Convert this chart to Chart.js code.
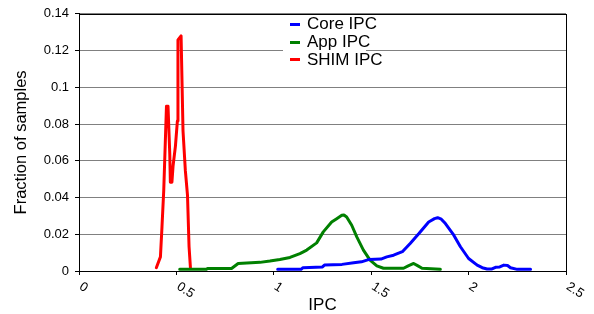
<!DOCTYPE html>
<html>
<head>
<meta charset="utf-8">
<script src="https://cdn.jsdelivr.net/npm/chart.js@4/dist/chart.umd.min.js"></script>
<style>
html,body{margin:0;padding:0;background:#fff;}
#wrap{width:594px;height:314px;}
</style>
</head>
<body>
<div id="wrap"><canvas id="c" width="594" height="314"></canvas></div>
<script>
// ---- data ----
const seriesNames = ['Core IPC', 'App IPC', 'SHIM IPC'];

const coreX = [1.02, 1.14, 1.15, 1.25, 1.26, 1.35, 1.41, 1.45, 1.49, 1.55, 1.58, 1.615, 1.66, 1.70, 1.745, 1.795, 1.825, 1.841, 1.86, 1.881, 1.924, 1.958, 2.0, 2.044, 2.07, 2.095, 2.12, 2.138, 2.16, 2.181, 2.2, 2.215, 2.25, 2.318];
const coreY = [0.0009, 0.0009, 0.0018, 0.0022, 0.0032, 0.0036, 0.0045, 0.005, 0.0063, 0.0065, 0.0077, 0.0086, 0.0105, 0.015, 0.0204, 0.0267, 0.0285, 0.029, 0.0282, 0.0258, 0.0195, 0.0132, 0.0068, 0.0032, 0.0018, 0.0011, 0.0011, 0.002, 0.0022, 0.0032, 0.0030, 0.0018, 0.0009, 0.0009];

const appX = [0.517, 0.654, 0.66, 0.783, 0.817, 0.929, 0.98, 1.031, 1.083, 1.134, 1.169, 1.22, 1.254, 1.297, 1.323, 1.349, 1.36, 1.374, 1.40, 1.426, 1.46, 1.494, 1.529, 1.563, 1.666, 1.69, 1.718, 1.74, 1.761, 1.855];
const appY = [0.0009, 0.0009, 0.0014, 0.0014, 0.0041, 0.0047, 0.0054, 0.0063, 0.0074, 0.0095, 0.0114, 0.0153, 0.0213, 0.0267, 0.0285, 0.0303, 0.0305, 0.0294, 0.0249, 0.0186, 0.0114, 0.0059, 0.0028, 0.0015, 0.0015, 0.0028, 0.0041, 0.0028, 0.0015, 0.0009];

const shimX = [0.397, 0.418, 0.426, 0.435, 0.443, 0.449, 0.457, 0.466, 0.469, 0.477, 0.483, 0.495, 0.505, 0.508, 0.524, 0.534, 0.546, 0.557, 0.565, 0.572];
const shimY = [0.0018, 0.0077, 0.024, 0.0438, 0.070, 0.0897, 0.0897, 0.0636, 0.0483, 0.0483, 0.0573, 0.068, 0.0816, 0.1258, 0.128, 0.0762, 0.0546, 0.0411, 0.0132, 0.0018];

const xTickValues = [0, 0.5, 1, 1.5, 2, 2.5];
const xTickLabels = ['0', '0.5', '1', '1.5', '2', '2.5'];
const yTickLabels = ['0', '0.02', '0.04', '0.06', '0.08', '0.1', '0.12', '0.14'];
const xTitle = 'IPC';
const yTitle = 'Fraction of samples';

const colors = ['#0000FF', '#008000', '#FF0000'];
const FONT = '"Liberation Sans", Arial, sans-serif';

function pts(xs, ys){ return xs.map((x,i)=>({x:x, y:ys[i]})); }

const dataSets = [pts(coreX, coreY), pts(appX, appY), pts(shimX, shimY)];

const decor = {
  id: 'decor',
  beforeDatasetsDraw(chart){
    const ctx = chart.ctx;
    ctx.save();
    ctx.fillStyle = '#fff';
    ctx.fillRect(283, 14, 83, 54);
    ctx.restore();
  },
  afterDraw(chart){
    const ctx = chart.ctx;
    const a = chart.chartArea;
    const xs = chart.scales.x;
    ctx.save();
    ctx.strokeStyle = '#000';
    ctx.lineWidth = 1;
    ctx.strokeRect(Math.round(a.left)+0.5, Math.round(a.top)+0.5, Math.round(a.right)-Math.round(a.left), Math.round(a.bottom)-Math.round(a.top));
    ctx.fillStyle = '#000';
    ctx.font = '13px ' + FONT;
    ctx.textAlign = 'left';
    ctx.textBaseline = 'top';
    xTickValues.forEach((v,i)=>{
      const px = xs.getPixelForValue(v);
      ctx.save();
      ctx.translate(px + 5, 280);
      ctx.rotate(33 * Math.PI/180);
      ctx.fillText(xTickLabels[i], 0, 0);
      ctx.restore();
    });
    ctx.font = '17px ' + FONT;
    ctx.textAlign = 'center';
    ctx.textBaseline = 'middle';
    ctx.fillText(xTitle, (a.left + a.right)/2, 305);
    ctx.save();
    ctx.translate(21, (a.top + a.bottom)/2);
    ctx.rotate(-Math.PI/2);
    ctx.font = '16.5px ' + FONT;
    ctx.fillText(yTitle, 0, 0);
    ctx.restore();
    ctx.font = '17px ' + FONT;
    ctx.textAlign = 'left';
    ctx.textBaseline = 'middle';
    seriesNames.forEach((n,i)=>{
      const y = 24 + i*17.7;
      ctx.fillStyle = colors[i];
      ctx.fillRect(290, Math.round(y)-1, 10, 3);
      ctx.fillStyle = '#000';
      ctx.fillText(n, 307, y + 0.5);
    });
    ctx.restore();
  }
};

new Chart(document.getElementById('c'), {
  type: 'line',
  data: {
    datasets: dataSets.map((d,i)=>({
      label: seriesNames[i],
      data: d,
      borderColor: colors[i],
      backgroundColor: colors[i],
      borderWidth: 3,
      borderJoinStyle: 'round',
      borderCapStyle: 'round',
      pointRadius: 0,
      fill: false,
      tension: 0
    }))
  },
  options: {
    responsive: false,
    animation: false,
    events: [],
    layout: { padding: { left: 0, top: 12, right: 28, bottom: 0 } },
    plugins: { legend: { display: false }, tooltip: { enabled: false } },
    scales: {
      x: {
        type: 'linear',
        min: 0, max: 2.5,
        afterBuildTicks(scale){ scale.ticks = xTickValues.map(v=>({value:v})); },
        afterFit(scale){ scale.height = 43; },
        ticks: { display: false },
        grid: { drawOnChartArea: false, drawTicks: true, tickLength: 4, tickColor: '#000', color: '#000' },
        border: { color: '#000', width: 1 }
      },
      y: {
        type: 'linear',
        min: 0, max: 0.14,
        afterBuildTicks(scale){ scale.ticks = yTickLabels.map(s=>({value: parseFloat(s)})); },
        afterFit(scale){ scale.width = 79; },
        ticks: {
          color: '#000',
          padding: 6,
          font: { family: FONT, size: 13 },
          callback(v, i){ return yTickLabels[i]; }
        },
        grid: { color: '#808080', lineWidth: 1, drawTicks: true, tickLength: 4, tickColor: '#000' },
        border: { color: '#000', width: 1 }
      }
    }
  },
  plugins: [decor]
});
</script>
</body>
</html>
